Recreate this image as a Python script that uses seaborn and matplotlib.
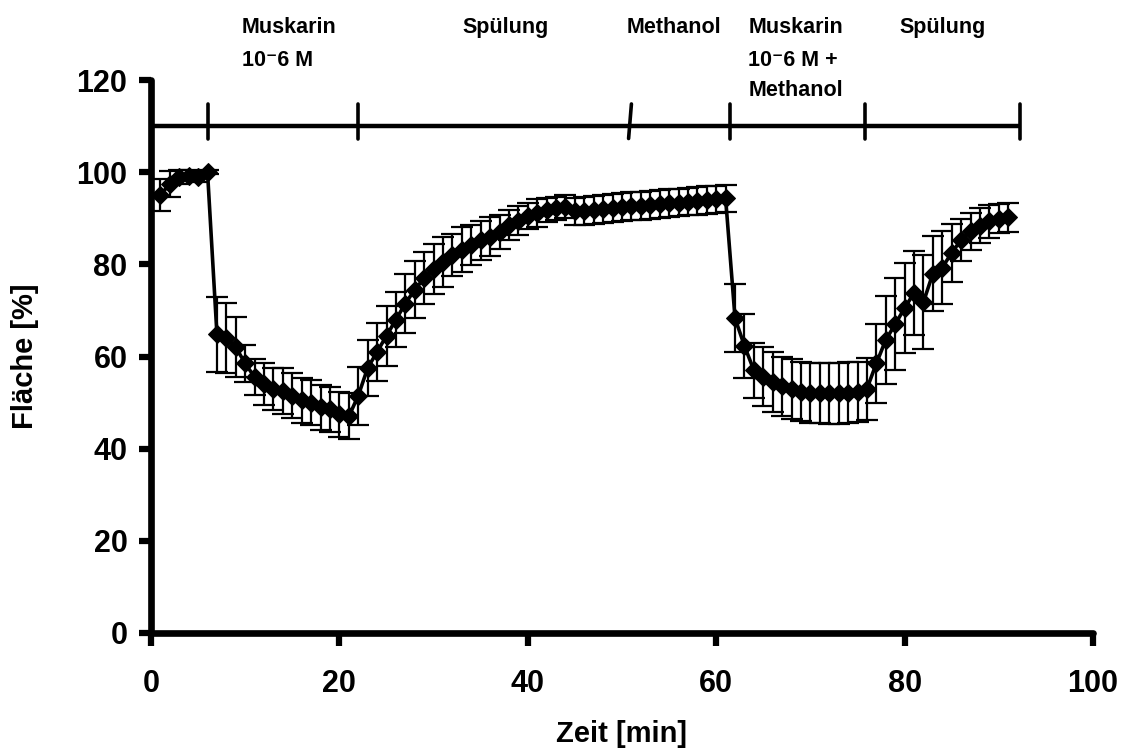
import numpy as np
import pandas as pd
import matplotlib
matplotlib.use("Agg")
import matplotlib.pyplot as plt
import seaborn as sns

# ---- data ----
minutes = list(range(1, 92))
flaeche = [95, 97.5, 99, 99.2, 99, 100,
           64.8, 64, 62, 58.5, 55.5, 54, 53, 52.5, 51.5, 50.5, 50, 49, 48.5, 47.5, 47,
           51.5, 57.5, 61, 64.5, 68, 71.5, 74.5, 77, 79, 80.5, 82, 83.2, 84.2, 85.2, 86,
           87, 88.5, 89.5, 90.5, 91.2, 91.8, 92.2, 92.5,
           91.5, 91.6, 91.8, 92.0, 92.2, 92.4, 92.6, 92.7, 92.9, 93.1, 93.3, 93.4, 93.6,
           93.8, 94.0, 94.1, 94.3,
           68.3, 62.3, 57, 55.6, 54.5, 53.5, 52.9, 52.4, 52.1, 52, 52, 52, 52.1, 52.3, 53,
           58.5, 63.6, 67, 70.5, 73.8, 71.8, 78, 79.3, 82.5, 85.3, 87.2, 88.4, 89.3, 89.9, 90.2]
fehler = [3.5, 2.8, 1.5, 1.2, 1.2, 0.5,
          8.2, 7.6, 6.5, 4.0, 3.9, 4.5, 4.6, 4.9, 4.9, 4.9, 4.9, 4.9, 4.9, 4.9, 5.0,
          6.3, 6.0, 6.3, 6.5, 6.0, 6.4, 6.2, 5.7, 5.5, 5.4, 4.6, 4.9, 4.4, 4.2, 4.3,
          3.7, 3.2, 3.2, 2.9, 3.0, 2.6, 2.5, 2.5,
          3.0, 3.0, 3.0, 3.0, 3.0, 3.0, 3.0, 3.0, 3.0, 3.0, 3.0, 3.0, 3.0,
          3.0, 3.0, 3.0, 3.0,
          7.4, 7.0, 6.0, 6.4, 6.5, 6.5, 6.5, 6.5, 6.5, 6.5, 6.6, 6.6, 6.6, 6.5, 6.7,
          8.5, 9.5, 10.0, 9.8, 9.2, 10.2, 8.2, 7.9, 6.3, 4.6, 4.0, 3.8, 3.5, 3.2, 3.1]

# phase timeline (top)
phase_bounds = [6.0, 22.0, 50.85, 61.5, 75.8, 92.3]
phase_labels = [["Muskarin", "10\u207b6 M"], ["Sp\u00fclung"], ["Methanol"],
                ["Muskarin", "10\u207b6 M +", "Methanol"], ["Sp\u00fclung"]]
phase_label_x = [9.66, 33.1, 50.5, 63.4, 79.5]

x_ticks = [0, 20, 40, 60, 80, 100]
y_ticks = [0, 20, 40, 60, 80, 100, 120]

df = pd.DataFrame({"Zeit": minutes, "Flaeche": flaeche, "err": fehler})

# ---- style ----
sns.set_style("ticks")
plt.rcParams["font.family"] = ["Liberation Sans", "DejaVu Sans"]
plt.rcParams["font.weight"] = "bold"
plt.rcParams["text.color"] = "black"
plt.rcParams["axes.labelcolor"] = "black"
plt.rcParams["xtick.color"] = "black"
plt.rcParams["ytick.color"] = "black"
plt.rcParams["xtick.labelcolor"] = "black"
plt.rcParams["ytick.labelcolor"] = "black"

fig = plt.figure(figsize=(11.3, 7.49), dpi=100)
ax = fig.add_axes([151 / 1130, 116 / 749, 942 / 1130, 553 / 749])

ax.errorbar(df["Zeit"], df["Flaeche"], yerr=df["err"], fmt="none",
            ecolor="black", elinewidth=1.6, capsize=8, capthick=1.6, zorder=2)
sns.lineplot(data=df, x="Zeit", y="Flaeche", estimator=None, color="black",
             linewidth=2.6, marker="D", markersize=9.5, markeredgecolor="black",
             markerfacecolor="black", ax=ax, zorder=3)

ax.set_xlim(0, 100)
ax.set_ylim(0, 120)
ax.set_xticks(x_ticks)
ax.set_yticks(y_ticks)
ax.tick_params(axis="both", direction="out", length=9, width=4.5, color="black",
               labelcolor="black", labelsize=22)
ax.tick_params(axis="x", pad=17)
ax.tick_params(axis="y", pad=8)
for lab in ax.get_xticklabels() + ax.get_yticklabels():
    lab.set_fontweight("bold")

for s in ["top", "right"]:
    ax.spines[s].set_visible(False)
for s in ["left", "bottom"]:
    ax.spines[s].set_linewidth(4.8)
    ax.spines[s].set_color("black")
    ax.spines[s].set_capstyle("round")

ax.set_xlabel("Zeit [min]", fontsize=21, fontweight="bold", va="center", color="black")
ax.set_ylabel("Fl\u00e4che [%]", fontsize=21, fontweight="bold", va="center", color="black")
ax.xaxis.set_label_coords(0.5, (633 - 734) / 553)
ax.yaxis.set_label_coords((25 - 151) / 942, 0.5)

# timeline
ax.plot([0, phase_bounds[-1]], [110, 110], color="black", lw=3.2,
        solid_capstyle="butt", zorder=4)
for i, b in enumerate(phase_bounds):
    if i == 2:
        ax.plot([b + 0.15, b - 0.15], [114.8, 107.3], color="black", lw=2.6, zorder=4)
    else:
        ax.plot([b, b], [107.3, 114.8], color="black", lw=2.6, zorder=4)

line_y = [130.2, 123.1, 116.5]
for lx, lines in zip(phase_label_x, phase_labels):
    for ly, txt in zip(line_y, lines):
        ax.text(lx, ly, txt, ha="left", va="baseline", fontsize=15.5,
                fontweight="bold", color="black", clip_on=False,
                transform=ax.transData)

fig.savefig("out.png", dpi=100)
